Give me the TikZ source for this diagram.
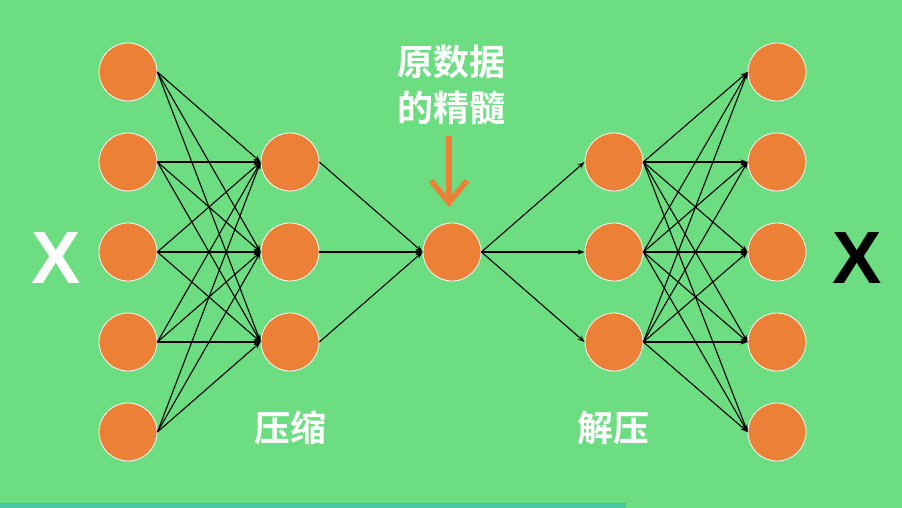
\documentclass[tikz,border=0pt]{standalone}
\usepackage{fontspec}
\setmainfont{Liberation Sans}
\newfontfamily\cjk{Noto Sans CJK SC Bold}
\usetikzlibrary{arrows.meta}
\definecolor{bg}{RGB}{108,221,128}
\definecolor{orangec}{RGB}{236,128,54}
\definecolor{stripe}{RGB}{72,200,160}
\tikzset{
  neuron/.style={circle,fill=orangec,draw=white,line width=0.8pt,minimum size=58pt,inner sep=0pt},
  conn/.style={-{Stealth[length=7pt,width=5pt]},line width=1.1pt,black},
  lbl/.style={text=white,font=\cjk\fontsize{36}{38}\selectfont},
}
\begin{document}
\begin{tikzpicture}[x=1pt,y=-1pt]
\fill[bg] (0,0) rectangle (902,508);
\fill[stripe] (0,503) rectangle (626,508);
\useasboundingbox (0,0) rectangle (902,508);
% layers
\foreach \i/\y in {1/72,2/162,3/252,4/342,5/432}{
  \node[neuron] (a\i) at (128,\y) {};
  \node[neuron] (e\i) at (777,\y) {};
}
\foreach \i/\y in {1/162,2/252,3/342}{
  \node[neuron] (b\i) at (290,\y) {};
  \node[neuron] (d\i) at (614,\y) {};
}
\node[neuron] (c) at (452,252) {};
% connections
\foreach \i in {1,...,5}{
  \foreach \j in {1,2,3}{
    \draw[conn] (a\i.east) -- (b\j.west);
    \draw[conn] (d\j.east) -- (e\i.west);
  }
}
\foreach \j in {1,2,3}{
  \draw[conn] (b\j.east) -- (c.west);
  \draw[conn] (c.east) -- (d\j.west);
}
% labels
\node[lbl] (t1) at (451,62) {原数据};
\node[lbl] (t2) at (451,108) {的精髓};
\coordinate (ar1) at (449,136);
\coordinate (ar2) at (449,207);
\draw[orangec,line width=5.5pt,-{Straight Barb[length=22pt,width=36pt,line width=5.5pt]}] (ar1) -- (ar2);
\node[lbl] (comp) at (290,428) {压缩};
\node[lbl] (decomp) at (613,428) {解压};
\node[text=white,font=\bfseries\fontsize{74}{74}\selectfont] (xin) at (56,258) {X};
\node[text=black,font=\bfseries\fontsize{74}{74}\selectfont] (xout) at (857,258) {X};
\end{tikzpicture}
\end{document}
